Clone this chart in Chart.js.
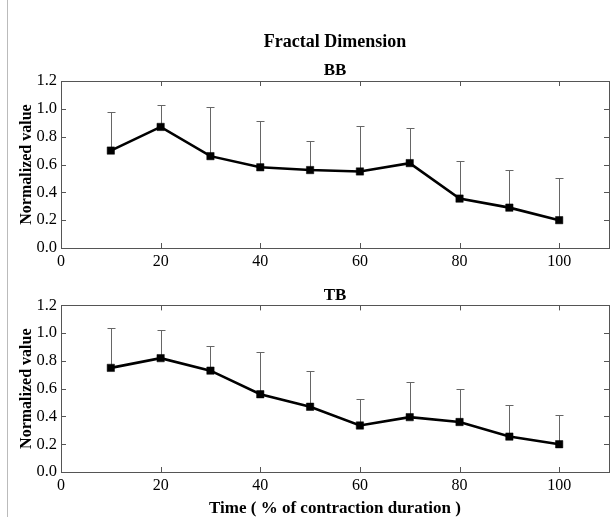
<!DOCTYPE html>
<html lang="en">
<head>
<meta charset="UTF-8">
<title>Fractal Dimension</title>
<script src="https://cdn.jsdelivr.net/npm/chart.js@4.4.0/dist/chart.umd.min.js"></script>
<style>
  body { margin: 0; background: #fff; }
  .page { position: relative; width: 611px; height: 517px; overflow: hidden; }
  .edge { position: absolute; left: 7px; top: 0; width: 1px; height: 517px; background: #bbb; }
  #bb { position: absolute; left: 0; top: 0; }
  #tb { position: absolute; left: 0; top: 275px; }
</style>
</head>
<body>
<div class="page">
  <div class="edge"></div>
  <canvas id="bb" width="611" height="275"></canvas>
  <canvas id="tb" width="611" height="244"></canvas>
</div>
<script>
// values
const times = [10, 20, 30, 40, 50, 60, 70, 80, 90, 100];
const bbMean = [0.70, 0.87, 0.66, 0.58, 0.56, 0.55, 0.61, 0.355, 0.29, 0.20];
const bbSd   = [0.28, 0.16, 0.35, 0.33, 0.21, 0.33, 0.25, 0.27, 0.27, 0.30];
const tbMean = [0.75, 0.82, 0.73, 0.56, 0.47, 0.335, 0.395, 0.36, 0.255, 0.20];
const tbSd   = [0.29, 0.205, 0.175, 0.305, 0.26, 0.19, 0.25, 0.235, 0.23, 0.21];
const xTicks = [0, 20, 40, 60, 80, 100];
const yTicks = [0.0, 0.2, 0.4, 0.6, 0.8, 1.0, 1.2];

const serif = "'Liberation Serif', 'Times New Roman', serif";

// upward-only error bars with a small cap
const errorBars = {
    id: 'errorBars',
    beforeDatasetsDraw(chart, args, opts) {
        const ctx = chart.ctx;
        const xs = chart.scales.x, ys = chart.scales.y;
        const ds = chart.data.datasets[0];
        ctx.save();
        ctx.strokeStyle = '#666';
        ctx.lineWidth = 1;
        ds.data.forEach((p, i) => {
            const x = Math.round(xs.getPixelForValue(p.x)) + 0.5;
            const y0 = ys.getPixelForValue(p.y);
            const y1 = Math.round(ys.getPixelForValue(p.y + opts.sd[i])) + 0.5;
            ctx.beginPath();
            ctx.moveTo(x, y0);
            ctx.lineTo(x, y1);
            ctx.moveTo(x - 4, y1);
            ctx.lineTo(x + 4, y1);
            ctx.stroke();
        });
        ctx.restore();
    }
};

// box frame with inward ticks on all four sides
const frame = {
    id: 'frame',
    afterDraw(chart) {
        const ctx = chart.ctx;
        const a = chart.chartArea;
        const xs = chart.scales.x, ys = chart.scales.y;
        ctx.save();
        ctx.strokeStyle = '#555';
        ctx.lineWidth = 1;
        ctx.strokeRect(Math.round(a.left) + 0.5, Math.round(a.top) + 0.5,
            Math.round(a.right - a.left), Math.round(a.bottom - a.top));
        ctx.beginPath();
        xs.ticks.forEach(t => {
            const x = Math.round(xs.getPixelForValue(t.value)) + 0.5;
            ctx.moveTo(x, a.bottom); ctx.lineTo(x, a.bottom - 5);
            ctx.moveTo(x, a.top); ctx.lineTo(x, a.top + 5);
        });
        ys.ticks.forEach(t => {
            const y = Math.round(ys.getPixelForValue(t.value)) + 0.5;
            ctx.moveTo(a.left, y); ctx.lineTo(a.left + 5, y);
            ctx.moveTo(a.right, y); ctx.lineTo(a.right - 5, y);
        });
        ctx.stroke();
        ctx.restore();
    }
};

function makeChart(id, name, mean, sd, withTitle, withXTitle, xHeight, xPad) {
    return new Chart(document.getElementById(id), {
        type: 'line',
        data: {
            datasets: [{
                label: name,
                data: times.map((t, i) => ({ x: t, y: mean[i] })),
                borderColor: '#000',
                borderWidth: 2.6,
                pointStyle: 'rect',
                pointRadius: 5.2,
                pointBorderWidth: 0.5,
                pointBackgroundColor: '#000',
                pointBorderColor: '#000',
                tension: 0
            }]
        },
        options: {
            responsive: false,
            animation: false,
            layout: {
                autoPadding: false,
                padding: { left: 10, right: 2, top: withTitle ? 32 : 10, bottom: 0 }
            },
            plugins: {
                legend: { display: false },
                tooltip: { enabled: false },
                title: {
                    display: withTitle,
                    fullSize: false,
                    text: 'Fractal Dimension',
                    color: '#000',
                    font: { family: serif, size: 18, weight: 'bold' },
                    padding: { top: 0, bottom: 7 }
                },
                subtitle: {
                    display: true,
                    fullSize: false,
                    text: name,
                    color: '#000',
                    font: { family: serif, size: 17, weight: 'bold' },
                    padding: { top: 0, bottom: 0 }
                },
                errorBars: { sd: sd }
            },
            scales: {
                x: {
                    type: 'linear',
                    min: 0,
                    max: 110,
                    grid: { display: false, tickLength: 0 },
                    border: { display: false },
                    afterBuildTicks: s => { s.ticks = xTicks.map(v => ({ value: v })); },
                    afterFit: s => { s.height = xHeight; },
                    ticks: { color: '#000', padding: xPad, maxRotation: 0, font: { family: serif, size: 16 } },
                    title: {
                        display: withXTitle,
                        text: 'Time ( % of contraction duration )',
                        color: '#000',
                        font: { family: serif, size: 17, weight: 'bold' },
                        padding: { top: 0, bottom: 0 }
                    }
                },
                y: {
                    min: 0,
                    max: 1.2,
                    grid: { display: false, tickLength: 0 },
                    border: { display: false },
                    afterBuildTicks: s => { s.ticks = yTicks.map(v => ({ value: v })); },
                    afterFit: s => { s.width = 51; },
                    ticks: { color: '#000', padding: 4, callback: v => v.toFixed(1), font: { family: serif, size: 16.5 } },
                    title: {
                        display: true,
                        text: 'Normalized value',
                        color: '#000',
                        font: { family: serif, size: 16, weight: 'bold' },
                        padding: { top: 7, bottom: 0 }
                    }
                }
            }
        },
        plugins: [errorBars, frame]
    });
}

makeChart('bb', 'BB', bbMean, bbSd, true, false, 27, 4);
makeChart('tb', 'TB', tbMean, tbSd, false, true, 47, 4);
</script>
</body>
</html>
